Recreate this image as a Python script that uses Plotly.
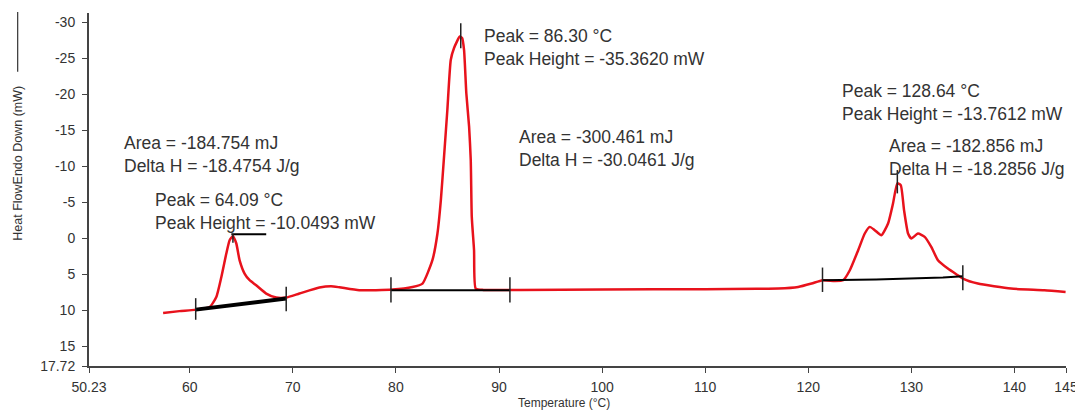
import plotly.graph_objects as go

# ---- data ----
temperature = [57.42, 59.0, 60.58, 61.94, 62.58, 63.07, 63.55, 63.87, 64.19, 64.52, 64.84, 65.32,
               65.81, 66.45, 67.42, 68.39, 69.36, 70.64, 72.58, 73.71, 74.52, 76.45, 79.67,
               81.61, 82.58, 83.54, 84.03, 84.36, 84.68, 84.99, 85.32, 85.64, 86.20, 86.42,
               86.61, 86.83, 87.10, 87.26, 87.36, 87.58, 87.74, 88.5, 92.0, 100.0, 110.0, 115.0,
               117.09, 119.02, 120.32, 121.38, 122.58, 123.38, 124.03, 124.84, 125.48, 125.97,
               126.45, 127.09, 127.74, 128.22, 128.64, 128.97, 129.29, 129.68, 130.00, 130.64,
               131.29, 131.93, 132.58, 133.54, 134.51, 134.99, 136.45, 139.67, 142.90, 144.96]
heat_flow = [10.36, 10.10, 9.89, 9.53, 8.14, 5.35, 2.10, 0.25, -0.31, 0.71, 3.05, 4.88,
             5.81, 6.51, 7.66, 8.22, 8.22, 7.66, 6.83, 6.65, 6.79, 7.20, 7.11,
             6.75, 6.27, 3.03, -0.68, -5.31, -11.57, -17.83, -24.78, -26.45, -28.03, -27.84,
             -26.18, -20.15, -15.51, -10.88, -2.99, 1.64, 6.97, 7.15, 7.15, 7.10, 7.05, 7.00,
             6.97, 6.75, 6.27, 5.81, 5.91, 5.81, 4.42, 1.64, -0.68, -1.60,
             -1.14, -0.44, -2.07, -4.85, -7.64, -7.40, -3.92, -0.68, 0.01, -0.68,
             -0.21, 1.18, 3.03, 4.19, 5.12, 5.58, 6.27, 6.97, 7.20, 7.44]

# integration baselines
base1_t = [60.58, 69.36]
base1_v = [9.89, 8.36]
base2_t = [79.52, 91.06]
base2_v = [7.20, 7.20]
base3_t = [121.38, 126.58, 133.06, 135.0]
base3_v = [5.81, 5.72, 5.44, 5.26]

# limit ticks (temperature, top value, bottom value)
limit_ticks = [(60.58, 8.3, 11.3), (69.36, 6.7, 10.1),
               (79.52, 5.4, 8.9), (91.06, 5.4, 8.9),
               (121.38, 4.05, 7.44), (134.99, 3.73, 7.20)]
# peak markers
peak1_line_t = [64.04, 67.42]
peak1_line_v = [-0.58, -0.58]
peak_ticks = [(64.19, -0.6, 0.6), (86.29, -29.89, -26.41), (128.64, -9.49, -6.25)]

x_tickvals = [50.23, 60, 70, 80, 90, 100, 110, 120, 130, 140, 145]
x_ticktext = ["50.23", "60", "70", "80", "90", "100", "110", "120", "130", "140", "145"]
y_tickvals = [-30, -25, -20, -15, -10, -5, 0, 5, 10, 15, 17.72]
y_ticktext = ["-30", "-25", "-20", "-15", "-10", "-5", "0", "5", "10", "15", "17.72"]

notes = [
    ("Area = -184.754 mJ<br>Delta H = -18.4754 J/g", 53.39, -11.68),
    ("Peak = 64.09 °C<br>Peak Height = -10.0493 mW", 56.45, -3.80),
    ("Peak = 86.30 °C<br>Peak Height = -35.3620 mW", 88.38, -26.57),
    ("Area = -300.461 mJ<br>Delta H = -30.0461 J/g", 91.71, -12.45),
    ("Peak = 128.64 °C<br>Peak Height = -13.7612 mW", 123.06, -18.85),
    ("Area = -182.856 mJ<br>Delta H = -18.2856 J/g", 127.67, -11.29),
]

FONT = "Liberation Sans, Arial, sans-serif"
TXT = "#333333"

fig = go.Figure()
fig.add_trace(go.Scatter(x=temperature, y=heat_flow, mode="lines",
                         line=dict(color="#e8121c", width=2.5, shape="spline", smoothing=0.5),
                         showlegend=False, hoverinfo="skip"))
fig.add_trace(go.Scatter(x=base1_t, y=base1_v, mode="lines",
                         line=dict(color="black", width=4), showlegend=False))
fig.add_trace(go.Scatter(x=base2_t, y=base2_v, mode="lines",
                         line=dict(color="black", width=2), showlegend=False))
fig.add_trace(go.Scatter(x=base3_t, y=base3_v, mode="lines",
                         line=dict(color="black", width=2), showlegend=False))
fig.add_trace(go.Scatter(x=peak1_line_t, y=peak1_line_v, mode="lines",
                         line=dict(color="black", width=2), showlegend=False))
for t, a, b in limit_ticks + peak_ticks:
    fig.add_trace(go.Scatter(x=[t, t], y=[a, b], mode="lines",
                             line=dict(color="#222222", width=1.5), showlegend=False))

for text, x, y in notes:
    fig.add_annotation(x=x, y=y, xref="x", yref="y", text=text, showarrow=False,
                       xanchor="left", yanchor="middle", align="left",
                       font=dict(family=FONT, size=17.5, color=TXT))

# axis titles
fig.add_annotation(x=0.486, y=-0.106, xref="paper", yref="paper",
                   text="Temperature (°C)", showarrow=False,
                   xanchor="center", yanchor="middle",
                   font=dict(family=FONT, size=12, color=TXT))
fig.add_annotation(x=-0.073, y=0.575, xref="paper", yref="paper",
                   text="Heat FlowEndo Down (mW)", showarrow=False, textangle=-90,
                   xanchor="center", yanchor="middle",
                   font=dict(family=FONT, size=12.5, color=TXT))
fig.add_shape(type="line", xref="paper", yref="paper",
              x0=-0.073, x1=-0.073, y0=0.8334, y1=1.003,
              line=dict(color="#333333", width=1.2))

# page body has an 8px margin, so the figure is drawn 8px smaller
fig.update_layout(
    width=1075, height=404,
    margin=dict(l=81, r=14.5, t=5.3, b=46.3),
    paper_bgcolor="white", plot_bgcolor="white",
    font=dict(family=FONT, size=14, color=TXT),
    showlegend=False,
)
fig.update_xaxes(range=[50.23, 145], tickvals=x_tickvals, ticktext=x_ticktext,
                 showgrid=False, zeroline=False, showline=True, linecolor="#444444",
                 linewidth=2, ticks="outside", ticklen=5, tickcolor="#444444",
                 ticklabelstandoff=2,
                 tickfont=dict(family=FONT, size=14, color=TXT))
fig.update_yaxes(range=[17.72, -31.3], tickvals=y_tickvals, ticktext=y_ticktext,
                 showgrid=False, zeroline=False, showline=True, linecolor="#444444",
                 linewidth=2, ticks="outside", ticklen=5, tickcolor="#444444",
                 ticklabelstandoff=4,
                 tickfont=dict(family=FONT, size=14, color=TXT))

fig.write_html("out.html")
